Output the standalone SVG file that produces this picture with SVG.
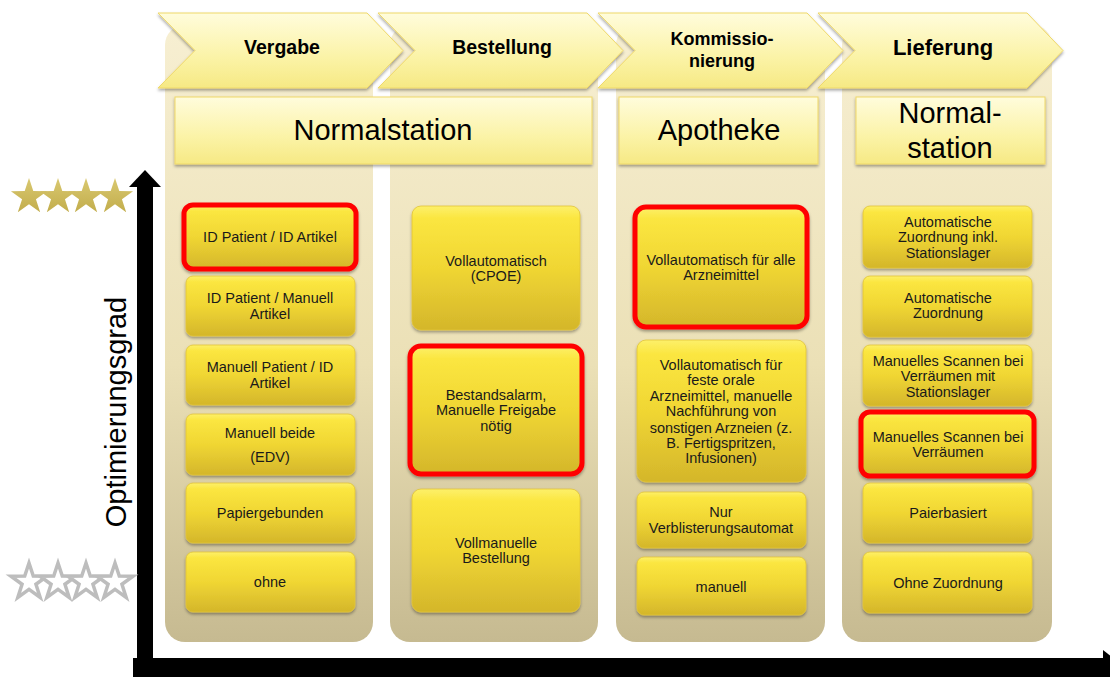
<svg xmlns="http://www.w3.org/2000/svg" width="1110" height="677" viewBox="0 0 1110 677">
<defs>
<linearGradient id="gPanel" x1="0" y1="0" x2="0" y2="1">
<stop offset="0" stop-color="#f7efd2"/><stop offset="0.55" stop-color="#ebe0b6"/><stop offset="1" stop-color="#c6ba91"/>
</linearGradient>
<linearGradient id="gHead" x1="0" y1="0" x2="0" y2="1">
<stop offset="0" stop-color="#fffcdc"/><stop offset="0.6" stop-color="#fbf3a6"/><stop offset="1" stop-color="#f6e984"/>
</linearGradient>
<linearGradient id="gGold" x1="0" y1="0" x2="0" y2="1">
<stop offset="0" stop-color="#fdf06a"/><stop offset="0.1" stop-color="#fbe640"/><stop offset="0.5" stop-color="#f0d633"/><stop offset="1" stop-color="#d4b62b"/>
</linearGradient>
<linearGradient id="gStar" x1="0" y1="0" x2="0" y2="1">
<stop offset="0" stop-color="#d9c870"/><stop offset="1" stop-color="#c2ad4c"/>
</linearGradient>
<filter id="sh" x="-10%" y="-10%" width="120%" height="130%">
<feDropShadow dx="0" dy="2" stdDeviation="1.5" flood-color="#000" flood-opacity="0.35"/>
</filter>
<path id="star" d="M0,-19 L4.29,-5.91 L18.07,-5.87 L6.94,2.26 L11.17,15.37 L0,7.3 L-11.17,15.37 L-6.94,2.26 L-18.07,-5.87 L-4.29,-5.91 Z"/>
</defs>
<style>
.panel{fill:url(#gPanel)}
.chev{fill:url(#gHead);stroke:#efd868;stroke-width:1;filter:url(#sh)}
.head{fill:url(#gHead);stroke:#efd868;stroke-width:1;filter:url(#sh)}
.box{fill:url(#gGold);stroke:#e2c436;stroke-width:0.8;filter:url(#sh)}
.red{fill:url(#gGold);stroke:#ff0000;stroke-width:5;filter:url(#sh)}
.ct{font-family:"Liberation Sans",Arial,sans-serif;font-weight:bold;text-anchor:middle;fill:#000}
.ht{font-family:"Liberation Sans",Arial,sans-serif;font-size:29px;text-anchor:middle;fill:#000}
.t{font-family:"Liberation Sans",Arial,sans-serif;font-size:14.5px;text-anchor:middle;fill:#1a1a1a}
.gs{fill:url(#gStar)}
.ws{fill:#fff;stroke:#bdbdbd;stroke-width:3.5;stroke-linejoin:miter}
</style>
<rect width="1110" height="677" fill="#fff"/>

<g id="panels">
<rect class="panel" x="165" y="25" width="208" height="617" rx="20"/>
<rect class="panel" x="390" y="25" width="208" height="617" rx="20"/>
<rect class="panel" x="616" y="25" width="209" height="617" rx="20"/>
<rect class="panel" x="842" y="25" width="210" height="617" rx="20"/>
</g>

<g id="chev-vergabe">
<polygon class="chev" points="158,13 367,13 403,50.5 367,88 158,88 195,50.5"/>
<text class="ct" x="282" y="54" font-size="19.5">Vergabe</text>
</g>
<g id="chev-bestellung">
<polygon class="chev" points="378,13 587,13 623,50.5 587,88 378,88 415,50.5"/>
<text class="ct" x="502" y="54" font-size="19.5">Bestellung</text>
</g>
<g id="chev-kommissionierung">
<polygon class="chev" points="598,13 807,13 843,50.5 807,88 598,88 635,50.5"/>
<text class="ct" x="722" y="45" font-size="18">Kommissio-</text>
<text class="ct" x="722" y="67" font-size="18">nierung</text>
</g>
<g id="chev-lieferung">
<polygon class="chev" points="818,13 1027,13 1063,50.5 1027,88 818,88 855,50.5"/>
<text class="ct" x="943" y="55" font-size="22">Lieferung</text>
</g>

<g id="head-normalstation">
<rect class="head" x="175" y="97" width="417" height="67"/>
<text class="ht" x="383" y="140">Normalstation</text>
</g>
<g id="head-apotheke">
<rect class="head" x="619" y="97" width="199" height="67"/>
<text class="ht" x="719" y="140">Apotheke</text>
</g>
<g id="head-normalstation2">
<rect class="head" x="856" y="97" width="189" height="67"/>
<text class="ht" x="950" y="123">Normal-</text>
<text class="ht" x="950" y="158">station</text>
</g>

<g id="v1"><rect class="red" x="184" y="205" width="172" height="64" rx="9"/><text class="t" x="270" y="242">ID Patient / ID Artikel</text></g>
<g id="v2"><rect class="box" x="186" y="276" width="169" height="60" rx="7"/><text class="t" x="270" y="303">ID Patient / Manuell</text><text class="t" x="270" y="319">Artikel</text></g>
<g id="v3"><rect class="box" x="186" y="345" width="169" height="60" rx="7"/><text class="t" x="270" y="372">Manuell Patient / ID</text><text class="t" x="270" y="388">Artikel</text></g>
<g id="v4"><rect class="box" x="186" y="414" width="169" height="61" rx="7"/><text class="t" x="270" y="438">Manuell beide</text><text class="t" x="270" y="462">(EDV)</text></g>
<g id="v5"><rect class="box" x="186" y="483" width="169" height="60" rx="7"/><text class="t" x="270" y="518">Papiergebunden</text></g>
<g id="v6"><rect class="box" x="186" y="552" width="169" height="60" rx="7"/><text class="t" x="270" y="587">ohne</text></g>

<g id="b1"><rect class="box" x="412" y="206" width="168" height="124" rx="9"/><text class="t" x="496" y="266">Vollautomatisch</text><text class="t" x="496" y="281">(CPOE)</text></g>
<g id="b2"><rect class="red" x="410" y="346" width="172" height="128" rx="11"/><text class="t" x="496" y="400">Bestandsalarm,</text><text class="t" x="496" y="415">Manuelle Freigabe</text><text class="t" x="496" y="431">nötig</text></g>
<g id="b3"><rect class="box" x="412" y="489" width="168" height="123" rx="9"/><text class="t" x="496" y="548">Vollmanuelle</text><text class="t" x="496" y="563">Bestellung</text></g>

<g id="k1"><rect class="red" x="635" y="207" width="172" height="120" rx="11"/><text class="t" x="721" y="265">Vollautomatisch für alle</text><text class="t" x="721" y="280">Arzneimittel</text></g>
<g id="k2"><rect class="box" x="637" y="340" width="169" height="142" rx="9"/>
<text class="t" x="721" y="370">Vollautomatisch für</text><text class="t" x="721" y="385">feste orale</text><text class="t" x="721" y="401">Arzneimittel, manuelle</text><text class="t" x="721" y="416">Nachführung von</text><text class="t" x="721" y="433">sonstigen Arzneien (z.</text><text class="t" x="721" y="448">B. Fertigspritzen,</text><text class="t" x="721" y="463">Infusionen)</text></g>
<g id="k3"><rect class="box" x="637" y="492" width="169" height="56" rx="7"/><text class="t" x="721" y="517">Nur</text><text class="t" x="721" y="533">Verblisterungsautomat</text></g>
<g id="k4"><rect class="box" x="637" y="557" width="169" height="58" rx="7"/><text class="t" x="721" y="592">manuell</text></g>

<g id="l1"><rect class="box" x="863" y="206" width="169" height="62" rx="7"/><text class="t" x="948" y="227">Automatische</text><text class="t" x="948" y="242">Zuordnung  inkl.</text><text class="t" x="948" y="258">Stationslager</text></g>
<g id="l2"><rect class="box" x="863" y="276" width="169" height="61" rx="7"/><text class="t" x="948" y="303">Automatische</text><text class="t" x="948" y="318">Zuordnung</text></g>
<g id="l3"><rect class="box" x="863" y="345" width="169" height="61" rx="7"/><text class="t" x="948" y="366">Manuelles Scannen bei</text><text class="t" x="948" y="381">Verräumen mit</text><text class="t" x="948" y="397">Stationslager</text></g>
<g id="l4"><rect class="red" x="861" y="412" width="173" height="64" rx="9"/><text class="t" x="948" y="442">Manuelles Scannen bei</text><text class="t" x="948" y="457">Verräumen</text></g>
<g id="l5"><rect class="box" x="863" y="483" width="169" height="60" rx="7"/><text class="t" x="948" y="518">Paierbasiert</text></g>
<g id="l6"><rect class="box" x="863" y="552" width="169" height="61" rx="7"/><text class="t" x="948" y="588">Ohne Zuordnung</text></g>

<g id="connectors">
<rect x="137" y="185" width="16" height="478" fill="#000"/>
<polygon points="145,170 129,187 161,187" fill="#000"/>
<rect x="133" y="658" width="972" height="19" fill="#000"/>
<polygon points="1103,650 1125,667 1103,685" fill="#000"/>
</g>

<g id="stars-high">
<use href="#star" class="gs" x="29" y="197"/>
<use href="#star" class="gs" x="58" y="197"/>
<use href="#star" class="gs" x="86" y="197"/>
<use href="#star" class="gs" x="115" y="197"/>
</g>
<g id="stars-low">
<use href="#star" class="ws" x="29" y="582"/>
<use href="#star" class="ws" x="58" y="582"/>
<use href="#star" class="ws" x="86" y="582"/>
<use href="#star" class="ws" x="115" y="582"/>
</g>

<g id="axis-label">
<text transform="translate(126,412) rotate(-90)" font-family="Liberation Sans, Arial, sans-serif" font-size="29" text-anchor="middle" fill="#000">Optimierungsgrad</text>
</g>
</svg>
